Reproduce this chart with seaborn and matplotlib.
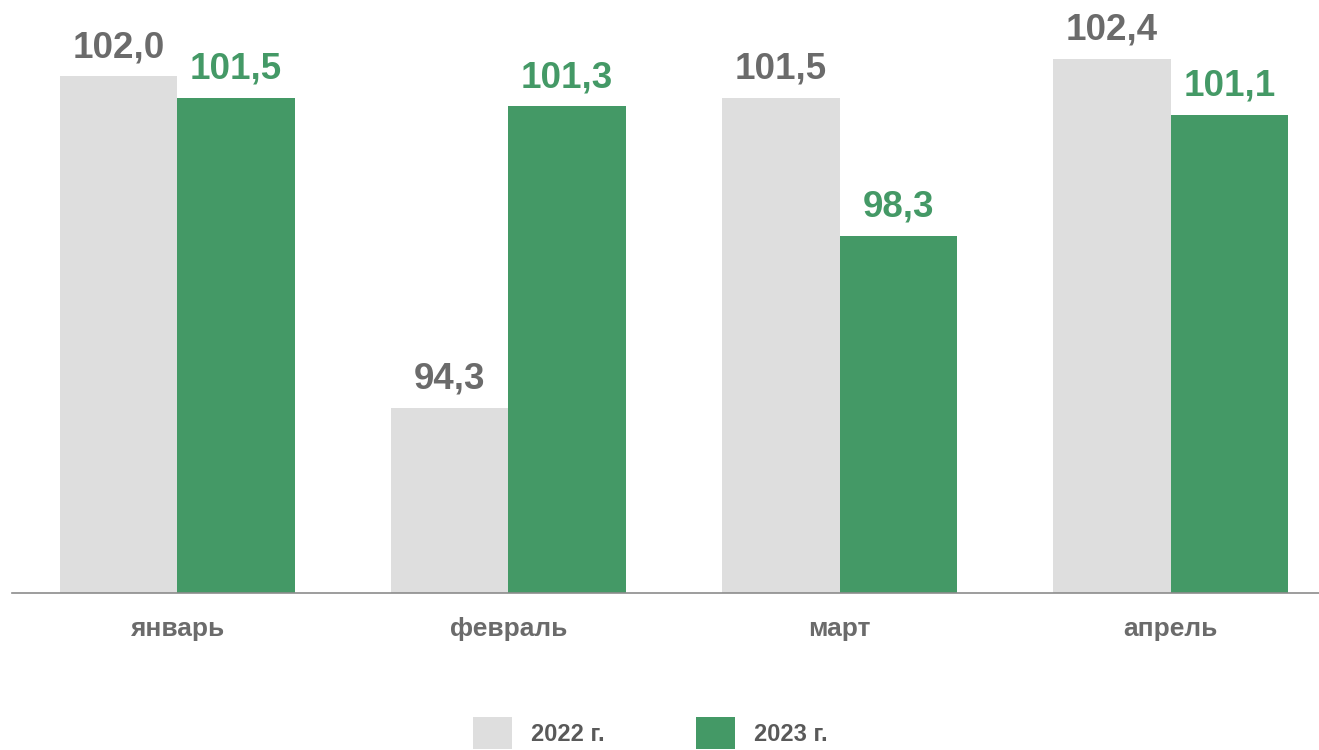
import pandas as pd
import numpy as np
import matplotlib.pyplot as plt
import seaborn as sns
from matplotlib.patches import Patch

# Data
months = ["январь", "февраль", "март", "апрель"]
years = ["2022 г.", "2023 г."]
values_2022 = [102.0, 94.3, 101.5, 102.4]
values_2023 = [101.5, 101.3, 98.3, 101.1]

colors = ["#DEDEDE", "#449966"]
label_colors = ["#6B6B6B", "#449966"]

df = pd.DataFrame({
    "month": months * 2,
    "year": [years[0]] * 4 + [years[1]] * 4,
    "value": values_2022 + values_2023,
})

sns.set_style("white")
plt.rcParams['font.family'] = ['Liberation Sans', 'DejaVu Sans']

fig = plt.figure(figsize=(13.19, 7.5), dpi=100)
ax = fig.add_axes([11.5 / 1319, 157 / 750, 1325 / 1319, 593 / 750])

sns.barplot(data=df, x="month", y="value", hue="year", palette=colors,
            width=0.71, saturation=1, legend=False, linewidth=0, ax=ax)

ax.set_ylim(90, 90 + 593 / 43.06)
ax.set_xlim(-0.5, 3.5)

# Value labels
for cont, col in zip(ax.containers, label_colors):
    labels = [f"{v:.1f}".replace(".", ",") for v in cont.datavalues]
    ax.bar_label(cont, labels=labels, padding=8, fontsize=26.5,
                 fontweight="bold", color=col)

# Axes styling
for s in ["top", "left", "right"]:
    ax.spines[s].set_visible(False)
ax.spines["bottom"].set_color("#8C8C8C")
ax.spines["bottom"].set_linewidth(1.2)
ax.set_yticks([])
ax.set_xlabel("")
ax.set_ylabel("")
ax.tick_params(axis="x", length=0, pad=17, labelsize=19, labelcolor="#6B6B6B")
for t in ax.get_xticklabels():
    t.set_fontweight("bold")

# Legend
handles = [Patch(facecolor=c, edgecolor="none") for c in colors]
fig.legend(handles, years, loc="center", bbox_to_anchor=(0.493, 1 - 733 / 750),
           ncol=2, frameon=False,
           prop={"weight": "bold", "size": 17},
           labelcolor="#595959", handlelength=1.65, handleheight=1.7,
           handletextpad=0.8, columnspacing=3.9, borderpad=0)

fig.savefig("out.png", dpi=100)
